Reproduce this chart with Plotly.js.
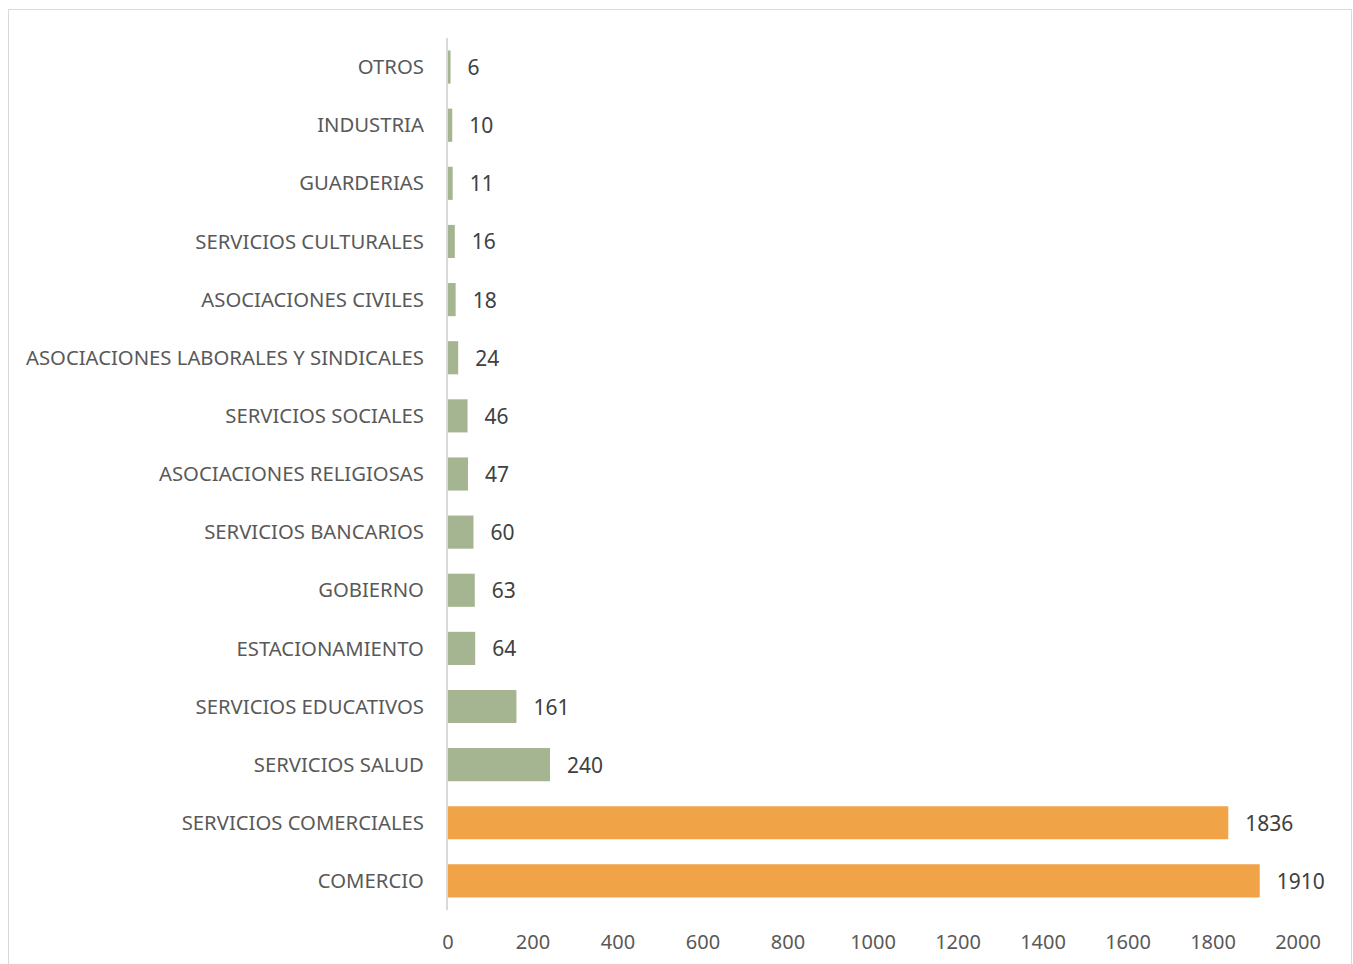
<!DOCTYPE html>
<html>
<head>
<meta charset="utf-8">
<script src="https://cdn.plot.ly/plotly-3.0.1.min.js"></script>
<style>
  html, body { margin: 0; padding: 0; background: #fff; overflow: hidden; }
  #frame { position: absolute; left: 8px; top: 9px; width: 1344px; height: 1000px; border: 1.5px solid #d9d9d9; box-sizing: border-box; }
  #chart { position: absolute; left: 0; top: 0; width: 1353px; height: 964px; }
</style>
</head>
<body>
<div id="frame"></div>
<div id="chart"></div>
<script>
const categories = [
  "OTROS", "INDUSTRIA", "GUARDERIAS", "SERVICIOS CULTURALES", "ASOCIACIONES CIVILES",
  "ASOCIACIONES LABORALES Y SINDICALES", "SERVICIOS SOCIALES", "ASOCIACIONES RELIGIOSAS",
  "SERVICIOS BANCARIOS", "GOBIERNO", "ESTACIONAMIENTO", "SERVICIOS EDUCATIVOS",
  "SERVICIOS SALUD", "SERVICIOS COMERCIALES", "COMERCIO"
];
const values = [6, 10, 11, 16, 18, 24, 46, 47, 60, 63, 64, 161, 240, 1836, 1910];
const highlighted = ["SERVICIOS COMERCIALES", "COMERCIO"];
const xTicks = [0, 200, 400, 600, 800, 1000, 1200, 1400, 1600, 1800, 2000];

const GREEN = "#a5b592";
const ORANGE = "#f0a347";
const colors = categories.map(c => highlighted.includes(c) ? ORANGE : GREEN);

const trace = {
  type: "bar",
  orientation: "h",
  y: categories,
  x: values,
  marker: { color: colors },
  text: values.map(v => "\u2002\u2009" + v),
  textposition: "outside",
  textfont: { family: "Noto Sans", size: 21, color: "#404040" },
  cliponaxis: false,
  hoverinfo: "none"
};

const layout = {
  width: 1353,
  height: 964,
  margin: { l: 448, r: 55, t: 38, b: 54 },
  paper_bgcolor: "rgba(0,0,0,0)",
  plot_bgcolor: "rgba(0,0,0,0)",
  bargap: 0.43,
  showlegend: false,
  font: { family: "Noto Sans", color: "#595959", size: 20 },
  xaxis: {
    range: [0, 2000],
    tickmode: "array",
    tickvals: xTicks,
    ticktext: xTicks.map(String),
    showgrid: false,
    zeroline: false,
    showline: false,
    ticks: "",
    ticklabelstandoff: 18,
    tickfont: { family: "Noto Sans", size: 20, color: "#595959" },
    fixedrange: true
  },
  yaxis: {
    type: "category",
    autorange: "reversed",
    showgrid: false,
    zeroline: false,
    showline: true,
    linecolor: "#d9d9d9",
    linewidth: 2,
    ticks: "",
    ticklabelstandoff: 18,
    tickfont: { family: "Noto Sans", size: 20.3, color: "#595959" },
    fixedrange: true
  }
};

Plotly.newPlot("chart", [trace], layout, { displayModeBar: false, staticPlot: true });
</script>
</body>
</html>
